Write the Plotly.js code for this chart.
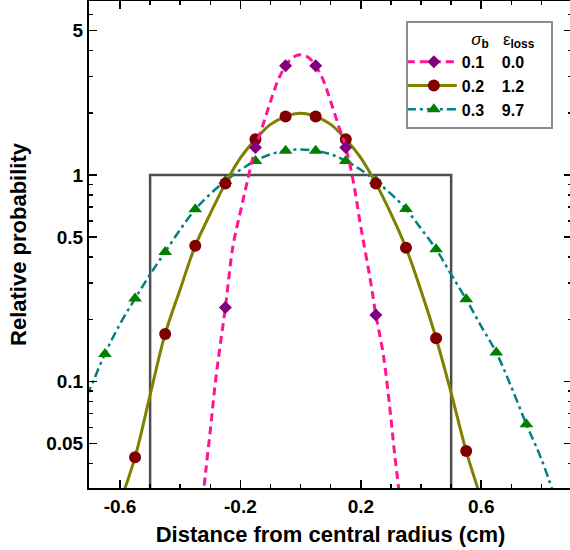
<!DOCTYPE html>
<html>
<head>
<meta charset="utf-8">
<script src="https://cdn.plot.ly/plotly-3.0.1.min.js"></script>
<style>
html,body{margin:0;padding:0;overflow:hidden;background:#fff;}
#chart{width:572px;height:550px;}
</style>
</head>
<body>
<div id="chart"></div>
<script>
// ---- data ----
const rectX = [-0.5, -0.5, 0.5, 0.5];
const rectY = [0.01, 1, 1, 0.01];

// sigma_b = 0.1 (pink dashed curve, purple diamonds)
const s1LineX = [-0.325, -0.315, -0.3, -0.285, -0.268, -0.25, -0.225, -0.2, -0.178, -0.15, -0.125, -0.1, -0.075, -0.05, -0.025, 0, 0.025, 0.05, 0.075, 0.1, 0.125, 0.15, 0.175, 0.2, 0.23, 0.25, 0.274, 0.296, 0.312, 0.33];
const s1LineY = [0.027, 0.037, 0.058, 0.094, 0.147, 0.228, 0.45, 0.665, 0.92, 1.36, 1.75, 2.27, 2.88, 3.38, 3.72, 3.82, 3.72, 3.38, 2.88, 2.27, 1.75, 1.36, 0.93, 0.56, 0.32, 0.21, 0.137, 0.075, 0.045, 0.027];
const s1MarkX = [-0.25, -0.15, -0.05, 0.05, 0.15, 0.25];
const s1MarkY = [0.228, 1.36, 3.38, 3.38, 1.36, 0.21];

// sigma_b = 0.2 (olive solid curve, dark red circles)
const s2LineX = [-0.6, -0.55, -0.5, -0.45, -0.4, -0.35, -0.3, -0.25, -0.2, -0.15, -0.1, -0.05, 0, 0.05, 0.1, 0.15, 0.2, 0.25, 0.3, 0.35, 0.4, 0.45, 0.5, 0.55, 0.6];
const s2LineY = [0.026, 0.043, 0.086, 0.17, 0.28, 0.454, 0.65, 0.911, 1.21, 1.49, 1.76, 1.92, 1.99, 1.92, 1.76, 1.49, 1.21, 0.911, 0.65, 0.444, 0.275, 0.162, 0.088, 0.046, 0.027];
const s2MarkX = [-0.55, -0.45, -0.35, -0.25, -0.15, -0.05, 0.05, 0.15, 0.25, 0.35, 0.45, 0.55];
const s2MarkY = [0.043, 0.17, 0.454, 0.911, 1.49, 1.92, 1.92, 1.49, 0.911, 0.444, 0.162, 0.046];

// sigma_b = 0.3 (teal dash-dot curve, green triangles)
const s3LineX = [-0.71, -0.7, -0.65, -0.6, -0.55, -0.5, -0.45, -0.4, -0.35, -0.3, -0.25, -0.2, -0.15, -0.1, -0.05, 0, 0.05, 0.1, 0.15, 0.2, 0.25, 0.3, 0.35, 0.4, 0.45, 0.5, 0.55, 0.6, 0.65, 0.7, 0.75, 0.8, 0.85];
const s3LineY = [0.086, 0.092, 0.136, 0.19, 0.252, 0.33, 0.424, 0.545, 0.682, 0.81, 0.935, 1.06, 1.17, 1.26, 1.31, 1.33, 1.31, 1.26, 1.17, 1.06, 0.935, 0.81, 0.684, 0.55, 0.437, 0.33, 0.25, 0.185, 0.138, 0.094, 0.062, 0.042, 0.026];
const s3MarkX = [-0.65, -0.55, -0.45, -0.35, -0.25, -0.15, -0.05, 0.05, 0.15, 0.25, 0.35, 0.45, 0.55, 0.65, 0.75];
const s3MarkY = [0.136, 0.252, 0.424, 0.682, 0.935, 1.17, 1.31, 1.31, 1.17, 0.935, 0.684, 0.437, 0.25, 0.138, 0.062];

const NB = '\u00a0';
const seriesNames = ['0.1' + NB.repeat(4) + '0.0', '0.2' + NB.repeat(4) + '1.2', '0.3' + NB.repeat(4) + '9.7'];
const legendHeader = NB.repeat(13) + '<i>σ</i><sub><b>b</b></sub>' + NB.repeat(3) + 'ε<sub><b>loss</b></sub>' + NB.repeat(3);

const xTickVals = [-0.6, -0.2, 0.2, 0.6];
const xTickText = ['-0.6', '-0.2', '0.2', '0.6'];
const xMinorVals = [-0.7, -0.5, -0.4, -0.3, -0.1, 0, 0.1, 0.3, 0.4, 0.5, 0.7, 0.8, 0.9];
const yTickVals = [0.05, 0.1, 0.5, 1, 5];
const yTickText = ['0.05', '0.1', '0.5', '1', '5'];
const yMinorVals = [0.04, 0.06, 0.07, 0.08, 0.09, 0.2, 0.3, 0.4, 0.6, 0.7, 0.8, 0.9, 2, 3, 4, 6, 7];

const FONT = 'Liberation Sans, Arial, Helvetica, sans-serif';

const PINK = '#ff1493', PURPLE = '#800080', OLIVE = '#808000', MAROON = '#800000', TEAL = '#008080', GREEN = '#008000';
const DASH1 = '8px,5px', DASH3 = '9px,4px,3px,4px';

const traces = [
  {x: rectX, y: rectY, mode: 'lines', line: {color: '#4d4d4d', width: 2.5}, showlegend: false, hoverinfo: 'skip'},
  // teal / green (drawn first => bottom)
  {x: s3LineX, y: s3LineY, mode: 'lines', line: {color: TEAL, width: 2.5, dash: DASH3, shape: 'spline', smoothing: 1}, showlegend: false},
  {x: s3MarkX, y: s3MarkY, mode: 'markers', marker: {symbol: 'triangle-up', size: 12, color: GREEN}, showlegend: false},
  // olive / maroon
  {x: s2LineX, y: s2LineY, mode: 'lines', line: {color: OLIVE, width: 3, shape: 'spline', smoothing: 1}, showlegend: false},
  {x: s2MarkX, y: s2MarkY, mode: 'markers', marker: {symbol: 'circle', size: 12, color: MAROON}, showlegend: false},
  // pink / purple
  {x: s1LineX, y: s1LineY, mode: 'lines', line: {color: PINK, width: 3, dash: DASH1, shape: 'spline', smoothing: 1}, showlegend: false},
  {x: s1MarkX, y: s1MarkY, mode: 'markers', marker: {symbol: 'diamond', size: 10, color: PURPLE}, showlegend: false},
  // legend entries (no points drawn inside the plot)
  {x: [null], y: [null], name: seriesNames[0], mode: 'lines+markers', line: {color: PINK, width: 3, dash: DASH1}, marker: {symbol: 'diamond', size: 10, color: PURPLE}},
  {x: [null], y: [null], name: seriesNames[1], mode: 'lines+markers', line: {color: OLIVE, width: 3}, marker: {symbol: 'circle', size: 12, color: MAROON}},
  {x: [null], y: [null], name: seriesNames[2], mode: 'lines+markers', line: {color: TEAL, width: 2.5, dash: DASH3}, marker: {symbol: 'triangle-up', size: 12, color: GREEN}}
];

const axisCommon = {
  showgrid: false, zeroline: false, showline: true, linecolor: '#000', linewidth: 2,
  mirror: 'ticks', ticks: 'inside', ticklen: 8, tickwidth: 1.5, tickcolor: '#000',
  tickfont: {family: FONT, size: 19, color: '#000', weight: 'bold'}
};

const layout = {
  width: 572, height: 550,
  margin: {l: 89, r: 0, t: 1, b: 62},
  paper_bgcolor: '#fff', plot_bgcolor: '#fff',
  showlegend: true,
  xaxis: Object.assign({}, axisCommon, {
    range: [-0.703, 0.9015],
    tickmode: 'array', tickvals: xTickVals, ticktext: xTickText,
    minor: {tickvals: xMinorVals, ticks: 'inside', ticklen: 4, tickwidth: 1.5, tickcolor: '#000'},
    title: {text: 'Distance from central radius (cm)', font: {family: FONT, size: 22, color: '#000', weight: 'bold'}, standoff: 11}
  }),
  yaxis: Object.assign({}, axisCommon, {
    type: 'log', range: [-1.516, 0.843],
    tickmode: 'array', tickvals: yTickVals, ticktext: yTickText,
    minor: {tickvals: yMinorVals, ticks: 'inside', ticklen: 4, tickwidth: 1.5, tickcolor: '#000'},
    title: {text: 'Relative probability', font: {family: FONT, size: 22, color: '#000', weight: 'bold'}, standoff: 14}
  }),
  legend: {
    x: 0.656, y: 0.9595, xanchor: 'left', yanchor: 'top',
    bgcolor: '#fff', bordercolor: '#8c8c8c', borderwidth: 2,
    traceorder: 'normal',
    font: {family: FONT, size: 16, color: '#000', weight: 'bold'},
    title: {text: legendHeader, font: {family: FONT, size: 17, color: '#000', weight: 'normal'}},
    itemwidth: 44
  }
};

Plotly.newPlot('chart', traces, layout, {staticPlot: true, displayModeBar: false}).then(function (gd) {
  // lengthen the legend sample lines to the reference's 50px and centre the markers on them
  gd.querySelectorAll('.legend .traces').forEach(function (g) {
    g.querySelectorAll('.legendlines path.js-line').forEach(function (p) { p.setAttribute('d', 'M-1,0h50'); });
    g.querySelectorAll('.legendpoints path.scatterpts').forEach(function (m) { m.setAttribute('transform', 'translate(26,0)'); });
  });
});
</script>
</body>
</html>
